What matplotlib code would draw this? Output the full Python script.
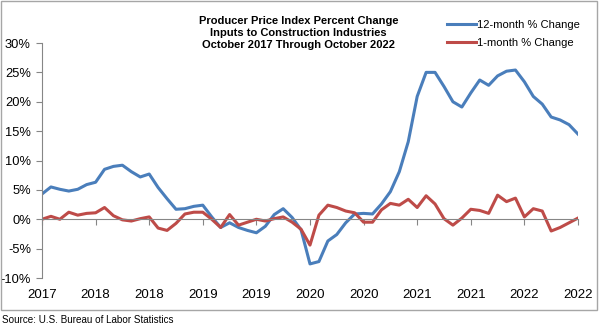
import matplotlib.pyplot as plt
from matplotlib.patches import Rectangle

plt.rcParams['font.family'] = ['Liberation Sans', 'DejaVu Sans']

# monthly values, Oct 2017 .. Oct 2022
months = list(range(61))
twelve_month = [4.3, 5.5, 5.1, 4.8, 5.1, 5.9, 6.3, 8.5, 9.0, 9.2, 8.1, 7.2, 7.7,
                5.4, 3.5, 1.7, 1.8, 2.2, 2.4, 0.4, -1.4, -0.6, -1.4, -1.9, -2.3,
                -1.2, 0.8, 1.8, 0.3, -1.8, -7.6, -7.2, -3.7, -2.6, -0.6, 0.9,
                1.0, 0.9, 2.6, 4.7, 8.1, 13.2, 20.9, 25.0, 25.0, 22.6, 20.0,
                19.1, 21.5, 23.7, 22.8, 24.4, 25.2, 25.4, 23.4, 20.9, 19.6,
                17.4, 16.9, 16.1, 14.5]
one_month = [0.0, 0.5, 0.0, 1.2, 0.7, 1.0, 1.1, 2.0, 0.6, -0.1, -0.3, 0.1, 0.4,
             -1.5, -1.9, -0.7, 0.9, 1.2, 1.2, 0.0, -1.4, 0.8, -1.0, -0.5, 0.0,
             -0.3, 0.1, 0.4, -0.5, -1.7, -4.4, 0.7, 2.4, 2.0, 1.4, 1.1, -0.5,
             -0.5, 1.6, 2.7, 2.4, 3.4, 2.0, 4.0, 2.6, 0.1, -1.0, 0.2, 1.7, 1.5,
             1.0, 4.1, 3.0, 3.6, 0.4, 1.8, 1.4, -2.0, -1.4, -0.6, 0.2]
tick_pos = list(range(0, 61, 6))
tick_labels = ['2017', '2018', '2018', '2019', '2019', '2020', '2020',
               '2021', '2021', '2022', '2022']
y_ticks = [-10, -5, 0, 5, 10, 15, 20, 25, 30]

gray = '#868686'
fig = plt.figure(figsize=(6, 3.28), dpi=100)
ax = fig.add_axes([0.07, 0.1524, 0.8933, 0.7165])

l1, = ax.plot(months, twelve_month, color='#4A7EBB', lw=2.2, solid_joinstyle='round')
l2, = ax.plot(months, one_month, color='#BE4B48', lw=2.2, solid_joinstyle='round')

ax.set_xlim(0, 60)
ax.set_ylim(-10, 30)
ax.set_yticks(y_ticks)
ax.set_yticklabels([f'{v}%' for v in y_ticks])
ax.tick_params(axis='y', labelsize=9.3, length=4, color=gray, pad=4)

for s in ['top', 'right']:
    ax.spines[s].set_visible(False)
ax.spines['left'].set_color(gray)
ax.spines['bottom'].set_position(('data', 0))
ax.spines['bottom'].set_color(gray)
ax.set_xticks(tick_pos)
ax.tick_params(axis='x', length=4, color=gray, labelbottom=False)

sec = ax.secondary_xaxis(0.0)
sec.set_xticks(tick_pos)
sec.set_xticklabels(tick_labels)
sec.spines['bottom'].set_visible(False)
sec.tick_params(length=0, labelsize=9.5, pad=8)

fig.text(0.498, 0.95, 'Producer Price Index Percent Change\nInputs to Construction Industries\nOctober 2017 Through October 2022',
         ha='center', va='top', fontsize=8, fontweight='bold', linespacing=1.2)

fig.legend([l1, l2], ['12-month % Change', '1-month % Change'],
           loc='upper left', bbox_to_anchor=(0.728, 0.97), frameon=False,
           fontsize=8, handlelength=2.6, handletextpad=0.1, labelspacing=0.75)

fig.patches.append(Rectangle((0.002, 0.055), 0.993, 0.942, transform=fig.transFigure,
                             fill=False, edgecolor='#a6a6a6', lw=1))
fig.text(0.003, 0.024, 'Source: U.S. Bureau of Labor Statistics', ha='left', va='center', fontsize=7.1)

fig.savefig('out.png', dpi=100)
